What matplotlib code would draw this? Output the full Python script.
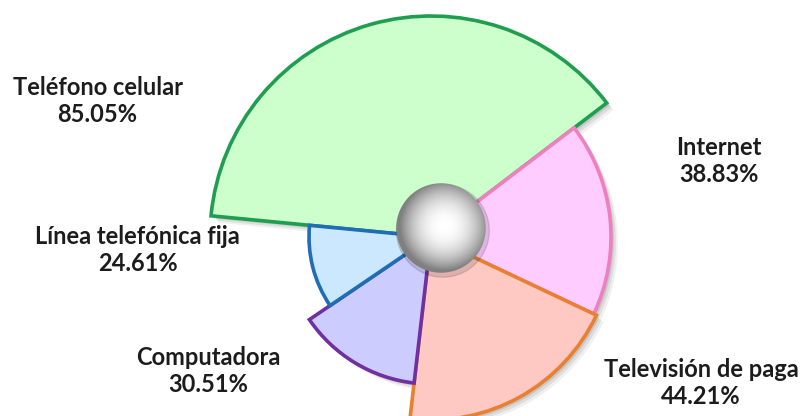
# grafica de rosa (pie con radio variable) - servicios TIC en hogares
import numpy as np
import matplotlib.pyplot as plt
from matplotlib import patheffects as pe
from matplotlib.patches import Circle

## datos
servicios = ["Teléfono celular", "Internet", "Televisión de paga",
             "Computadora", "Línea telefónica fija"]
porcentajes = [85.05, 38.83, 44.21, 30.51, 24.61]
# largo de cada rebanada (unidades relativas)
largos = [221, 180, 183, 147, 122]

rellenos = ["#ccffcc", "#ffccff", "#fec9c3", "#ccccff", "#cce8ff"]
bordes = ["#1f9e50", "#ef80bf", "#e8802f", "#7030a0", "#1f6db4"]

# posicion de las etiquetas (fraccion de la figura)
pos_etiquetas = [(0.121, 0.757), (0.892, 0.613), (0.870, 0.079),
                 (0.258, 0.108), (0.171, 0.399)]

plt.rcParams['font.family'] = ['Lato', 'DejaVu Sans']

fig = plt.figure(figsize=(8.06, 4.16), dpi=100)

# eje polar, el polo queda cerca de (431, 237) px; 1 unidad = 1 px
R = 240
ax = fig.add_axes([(431 - R) / 806, (416 - 237 - R) / 416, 2 * R / 806, 2 * R / 416],
                  projection='polar')
ax.set_theta_direction(-1)
ax.set_theta_offset(np.radians(174.5))
ax.set_ylim(0, R)
ax.set_axis_off()

total = sum(porcentajes)
anchos = np.array(porcentajes) / total * 2 * np.pi
inicios = np.concatenate([[0], np.cumsum(anchos)[:-1]])

# sombra primero, luego las rebanadas
sombra = [pe.SimplePatchShadow(offset=(5, -5), alpha=0.06, shadow_rgbFace='k'),
          pe.SimplePatchShadow(offset=(3.5, -3.5), alpha=0.08, shadow_rgbFace='k'),
          pe.SimplePatchShadow(offset=(2, -2), alpha=0.1, shadow_rgbFace='k')]
ax.bar(inicios, largos, width=anchos, align='edge', color='none',
       edgecolor='none', path_effects=sombra, zorder=1, clip_on=False)
barras = ax.bar(inicios, largos, width=anchos, align='edge', color=rellenos,
                edgecolor=bordes, linewidth=2.6, zorder=2, clip_on=False)
for b in barras:
    b.set_joinstyle('miter')

# hueco central con sombreado tipo esfera
hx, hy, hr = 441, 228, 45
axh = fig.add_axes([(hx - hr - 6) / 806, (416 - hy - hr - 6) / 416,
                    (2 * hr + 12) / 806, (2 * hr + 12) / 416])
axh.set_xlim(-1.14, 1.14)
axh.set_ylim(-1.14, 1.14)
axh.set_axis_off()
xx, yy = np.meshgrid(np.linspace(-1.14, 1.14, 300), np.linspace(-1.14, 1.14, 300))
rr = np.hypot(xx - 0.08, yy - 0.05)
tono = 1 - 0.5 * np.clip(rr, 0, 1) ** 2.2
img = axh.imshow(tono, cmap='gray', vmin=0, vmax=1, extent=(-1.14, 1.14, -1.14, 1.14),
                 origin='lower', zorder=3)
borde_hueco = Circle((0, 0), 1.0, transform=axh.transData)
img.set_clip_path(borde_hueco)
axh.add_patch(Circle((0.04, -0.06), 1.04, color='k', alpha=0.12, zorder=2))

# etiquetas
for nombre, p, (x, y) in zip(servicios, porcentajes, pos_etiquetas):
    fig.text(x, y, f"{nombre}\n{p:.2f}%", ha='center', va='center',
             fontsize=17, fontweight='bold', color='#1c1c1c', linespacing=1.2)

plt.savefig("out.png", dpi=100)
